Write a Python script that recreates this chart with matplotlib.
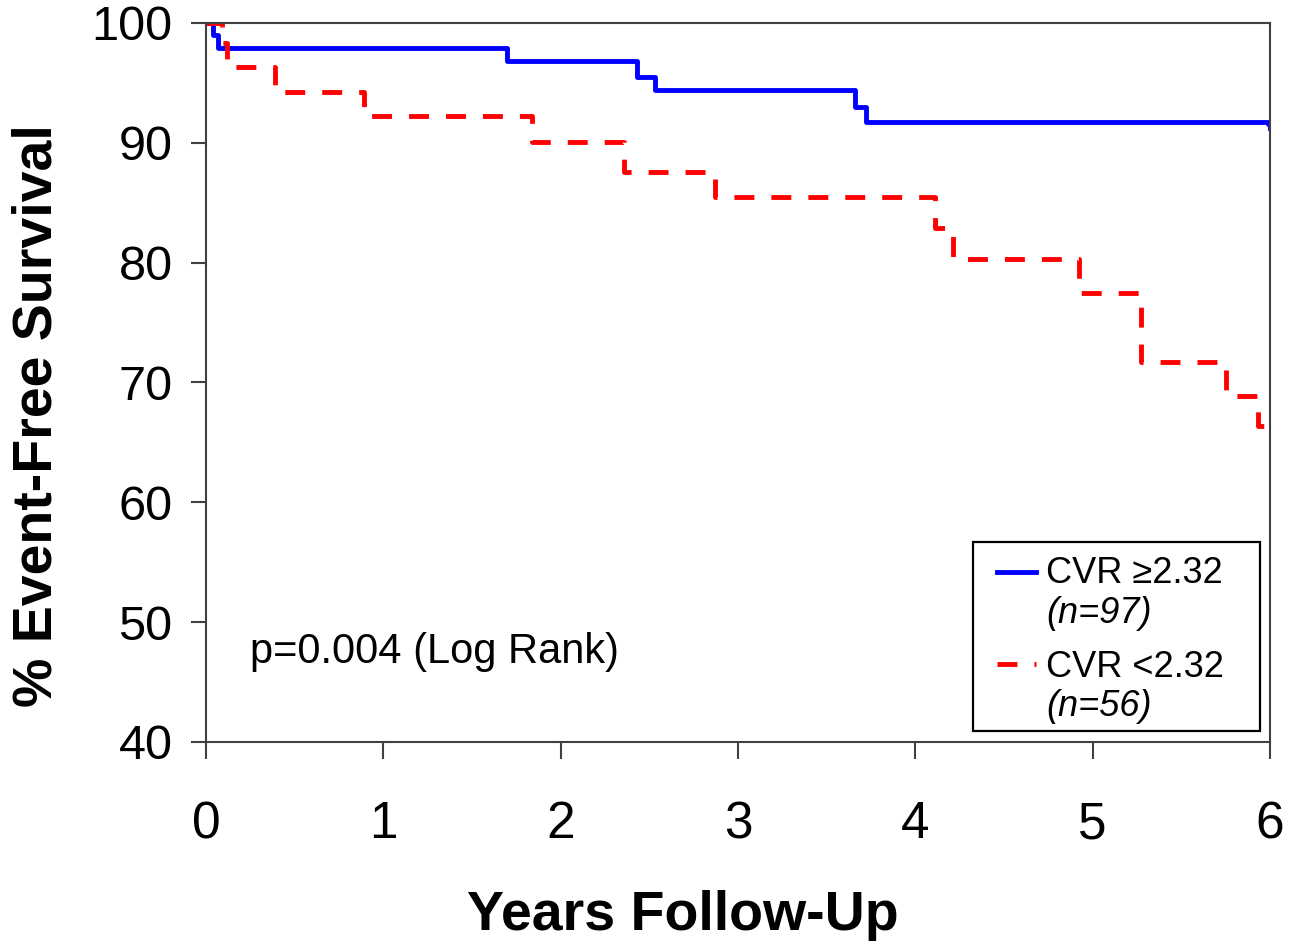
import matplotlib
matplotlib.use("Agg")
import matplotlib.pyplot as plt
from matplotlib.patches import Rectangle

plt.rcParams["font.family"] = ["Liberation Sans", "DejaVu Sans"]

# Kaplan-Meier curves (years, % event-free)
high_years = [0, 0.04, 0.07, 1.70, 2.43, 2.53, 3.66, 3.72, 5.99, 6.0]
high_surv = [100, 99.0, 97.9, 96.8, 95.5, 94.4, 93.0, 91.7, 91.6, 91.2]
low_years = [0, 0.09, 0.12, 0.39, 0.89, 1.84, 2.36, 2.87, 4.11, 4.21, 4.92, 5.27, 5.75, 5.93, 6.0]
low_surv = [100, 98.3, 96.3, 94.2, 92.2, 90.1, 87.6, 85.5, 82.9, 80.3, 77.5, 71.7, 68.9, 66.4, 66.2]

x_ticks = [0, 1, 2, 3, 4, 5, 6]
y_ticks = [40, 50, 60, 70, 80, 90, 100]

LW = 3.5
DASH = (0, (4.1, 3.5))

fig = plt.figure(figsize=(13.01, 9.41), dpi=100)
ax = fig.add_axes([0.1583, 0.2115, 0.8179, 0.7641])

ax.plot(high_years, high_surv, drawstyle="steps-post", color="#0000ff", lw=LW)
ax.plot(low_years, low_surv, drawstyle="steps-post", color="#ff0000", lw=LW, linestyle=DASH)

ax.set_xlim(0, 6)
ax.set_ylim(40, 100)
ax.set_xticks(x_ticks)
ax.set_yticks(y_ticks)
ax.tick_params(axis="y", labelsize=35, length=11, width=1.5, pad=13, color="#404040")
ax.tick_params(axis="x", labelsize=37, length=12, width=1.5, pad=30, color="#404040")
for sp in ax.spines.values():
    sp.set_color("#404040")
    sp.set_linewidth(1.5)

ax.text(0.25, 47.5, "p=0.004 (Log Rank)", fontsize=30, ha="left", va="center")

# legend box drawn by hand so the (n=..) line can be italic
ax.add_patch(Rectangle((0.721, 0.0153), 0.2696, 0.2627, transform=ax.transAxes,
                       facecolor="white", edgecolor="black", lw=1.6, zorder=5))
ax.plot([0.7434, 0.780], [0.2364, 0.2364], transform=ax.transAxes,
        color="#0000ff", lw=LW, zorder=6)
ax.plot([0.7434, 0.780], [0.1085, 0.1085], transform=ax.transAxes,
        color="#ff0000", lw=LW, linestyle=DASH, zorder=6)
ax.text(0.7895, 0.235, "CVR \u22652.32", transform=ax.transAxes, fontsize=26,
        ha="left", va="center", zorder=6)
ax.text(0.7895, 0.179, "(n=97)", transform=ax.transAxes, fontsize=26, style="italic",
        ha="left", va="center", zorder=6)
ax.text(0.7895, 0.104, "CVR <2.32", transform=ax.transAxes, fontsize=26,
        ha="left", va="center", zorder=6)
ax.text(0.7895, 0.049, "(n=56)", transform=ax.transAxes, fontsize=26, style="italic",
        ha="left", va="center", zorder=6)

fig.text(683 / 1301, 1 - 930 / 941, "Years Follow-Up", fontsize=40, fontweight="bold",
         ha="center", va="baseline")
fig.text(38 / 1301, 1 - 416 / 941, "% Event-Free Survival", fontsize=40, fontweight="bold",
         ha="center", va="center", rotation=90)

fig.savefig("out.png", dpi=100)
